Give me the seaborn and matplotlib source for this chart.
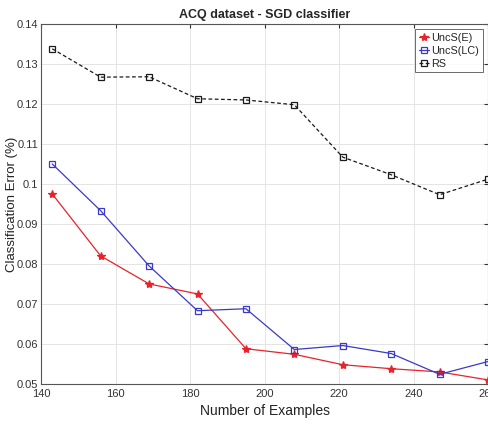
import matplotlib
matplotlib.use("Agg")
import matplotlib.pyplot as plt
import seaborn as sns
import pandas as pd

# data
n_examples = [143, 156, 169, 182, 195, 208, 221, 234, 247, 260]
unc_e = [0.0975, 0.0820, 0.0750, 0.0725, 0.0588, 0.0574, 0.0548, 0.0538, 0.0530, 0.0510]
unc_lc = [0.1050, 0.0933, 0.0795, 0.0683, 0.0688, 0.0586, 0.0596, 0.0576, 0.0524, 0.0556]
rs = [0.1338, 0.1267, 0.1268, 0.1213, 0.1210, 0.1198, 0.1067, 0.1023, 0.0973, 0.1012]

series_names = ["UncS(E)", "UncS(LC)", "RS"]
x_ticks = [140, 160, 180, 200, 220, 240, 260]
y_ticks = [0.05, 0.06, 0.07, 0.08, 0.09, 0.10, 0.11, 0.12, 0.13, 0.14]
y_tick_labels = ["0.05", "0.06", "0.07", "0.08", "0.09", "0.1", "0.11", "0.12", "0.13", "0.14"]

df = pd.DataFrame({
    "n": n_examples * 3,
    "err": unc_e + unc_lc + rs,
    "method": [s for s in series_names for _ in n_examples],
})

sns.set_style("whitegrid")
plt.rcParams["font.family"] = ["Liberation Sans", "DejaVu Sans"]

fig = plt.figure(figsize=(4.89, 4.28), dpi=100)
ax = fig.add_axes([0.084, 0.103, 0.914, 0.841])

styles = {
    "UncS(E)": dict(color="#e8232a", marker="*", linestyle="-", markersize=6, markerfacecolor="#e8232a"),
    "UncS(LC)": dict(color="#3a3ac8", marker="s", linestyle="-", markersize=5, markerfacecolor="none"),
    "RS": dict(color="#1a1a1a", marker="s", linestyle=(0, (3, 2)), markersize=5, markerfacecolor="none"),
}
for name in series_names:
    st = styles[name]
    sub = df[df["method"] == name]
    sns.lineplot(data=sub, x="n", y="err", ax=ax, label=name, color=st["color"],
                 marker=st["marker"], linestyle=st["linestyle"], linewidth=0.9,
                 markersize=st["markersize"], markerfacecolor=st["markerfacecolor"],
                 markeredgecolor=st["color"], markeredgewidth=0.9)

ax.set_xlim(140, 260)
ax.set_ylim(0.05, 0.14)
ax.set_xticks(x_ticks)
ax.set_yticks(y_ticks)
ax.set_yticklabels(y_tick_labels)
ax.tick_params(axis="both", labelsize=8, colors="#333333", direction="in", length=3,
               top=True, right=True)
ax.tick_params(axis="y", pad=2)
ax.tick_params(axis="x", pad=4)
ax.grid(True, color="#e4e4e4", linewidth=0.7)
for sp in ax.spines.values():
    sp.set_color("#555555")
    sp.set_linewidth(0.8)

ax.set_xlabel("Number of Examples", fontsize=10, color="#222222", labelpad=3)
ax.set_ylabel("Classification Error (%)", fontsize=9.5, color="#222222")
ax.yaxis.set_label_coords(-0.052, 0.5)
ax.set_title("ACQ dataset - SGD classifier", fontsize=9, fontweight="bold", pad=4)

leg = ax.legend(loc="upper right", fontsize=7.8, frameon=True, fancybox=False,
                handlelength=1.0, handletextpad=0.2, borderpad=0.3, labelspacing=0.3,
                borderaxespad=0.5)
leg.get_frame().set_edgecolor("#444444")
leg.get_frame().set_linewidth(0.7)

fig.savefig("out.png", dpi=100)
